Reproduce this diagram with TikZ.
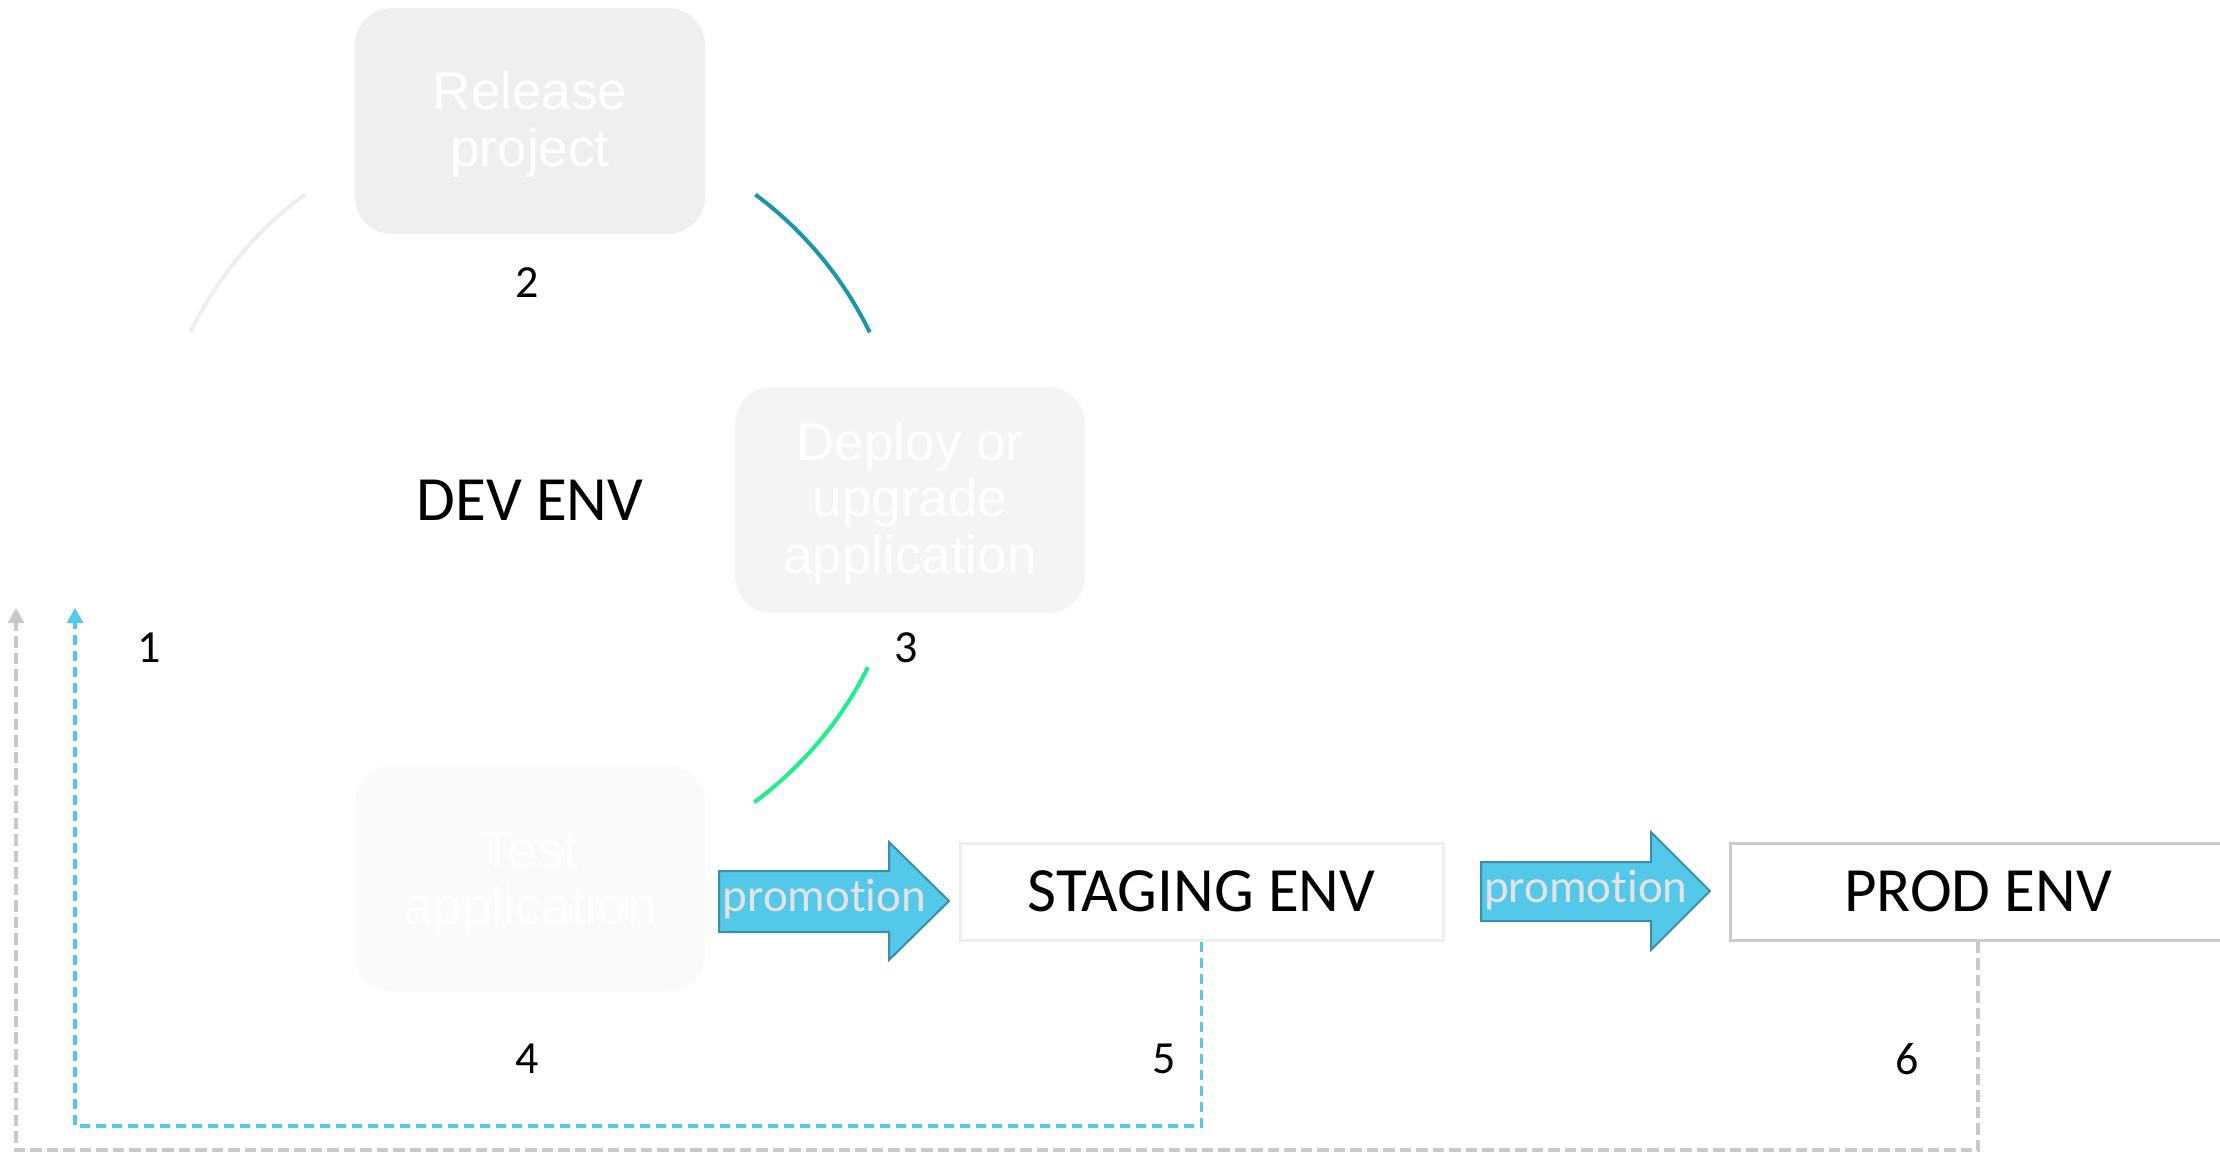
\documentclass[tikz,border=0pt]{standalone}
\usepackage{fontspec}
\setmainfont{Carlito}[Ligatures=NoCommon]
\newfontfamily\arialfont{Liberation Sans}
\usetikzlibrary{arrows.meta}
\definecolor{relfill}{HTML}{EFEFEF}
\definecolor{depfill}{HTML}{F3F4F4}
\definecolor{testfill}{HTML}{FAFAFA}
\definecolor{promo}{HTML}{54C8E8}
\definecolor{promoedge}{HTML}{3A8FA8}
\definecolor{promotext}{HTML}{E3E3E3}
\definecolor{stageedge}{HTML}{EEEEEE}
\definecolor{prodedge}{HTML}{CCCCCC}
\definecolor{arcA}{HTML}{EEEEEE}
\definecolor{arcB}{HTML}{1A96AA}
\definecolor{arcC}{HTML}{1DF08A}
\definecolor{loopblue}{HTML}{54C8E8}
\definecolor{loopgray}{HTML}{C8C8C8}
\begin{document}
\begin{tikzpicture}[x=1pt,y=-1pt,
  stepbox/.style={rounded corners=37pt, draw=none, minimum width=350pt, minimum height=226pt,
    inner sep=0pt},
  steptext/.style={inner sep=0pt, align=center, text=white,
    font=\arialfont\fontsize{53}{56.5}\selectfont},
  envbox/.style={minimum height=97pt, inner sep=0pt, line width=3pt, fill=white,
    font=\fontsize{63}{70}\selectfont},
  envlabel/.style={inner sep=0pt, font=\fontsize{63}{70}\selectfont},
  numlabel/.style={inner sep=0pt, font=\fontsize{46}{50}\selectfont},
  promoshape/.style={fill=promo, draw=promoedge, line width=2pt, line join=miter},
  promolabel/.style={inner sep=0pt, anchor=base, text=promotext, font=\fontsize{47}{50}\selectfont},
  arcline/.style={line width=4pt},
  loopline/.style={line width=3.2pt, dash pattern=on 10.5pt off 5.5pt, -{Triangle[width=16pt,length=15pt]}}
]
\useasboundingbox (0,0) rectangle (2220,1152);
\clip (0,0) rectangle (2220,1152);

% cycle boxes
\node[stepbox, fill=relfill] (rel) at (530,121) {};
\node[steptext] (reltext) at (530,124.5) {Release\\project};
\node[stepbox, fill=depfill] (dep) at (910,500) {};
\node[steptext] (deptext) at (910,503) {Deploy or\\upgrade\\application};
\node[stepbox, fill=testfill] (test) at (530,878.5) {};
\node[steptext] (testtext) at (530,884) {Test\\application};
\node[envlabel] (dev) at (530,500) {DEV ENV};

% arcs of the cycle
\coordinate (c) at (530,498);
\draw[arcline, arcA] ([shift={(-126.5:378)}]c) arc[start angle=-126.5, end angle=-154, radius=378];
\draw[arcline, arcB] ([shift={(-53.4:378)}]c) arc[start angle=-53.4, end angle=-26, radius=378];
\draw[arcline, arcC] ([shift={(26.6:378)}]c) arc[start angle=26.6, end angle=53.6, radius=378];

% numbers
\node[numlabel] (n1) at (149,648) {1};
\node[numlabel] (n2) at (527,283) {2};
\node[numlabel] (n3) at (906,648) {3};
\node[numlabel] (n4) at (527,1059) {4};
\node[numlabel] (n5) at (1164,1059) {5};
\node[numlabel] (n6) at (1907,1059) {6};

% environments
\node[envbox, draw=stageedge, minimum width=483pt] (staging) at (1201.5,891.5) {STAGING ENV};
\node[envbox, draw=prodedge, minimum width=496pt] (prod) at (1978,891.5) {PROD ENV};

% promotion arrows
\draw[promoshape] (719,871) -- (889,871) -- (889,842) -- (949,901) -- (889,960) -- (889,932) -- (719,932) -- cycle;
\node[promolabel] (p1) at (824.5,911) {promotion};
\draw[promoshape] (1481,862) -- (1651,862) -- (1651,832) -- (1710,891) -- (1651,950) -- (1651,921) -- (1481,921) -- cycle;
\node[promolabel] (p2) at (1586,902) {promotion};

% feedback loops
\coordinate (bc) at (75,1126);
\coordinate (bend) at (75,608);
\coordinate (gc) at (16,1150);
\coordinate (gend) at (16,608);
\draw[loopline, loopblue] (staging.south) |- (bc) -- (bend);
\draw[loopline, loopgray, dash pattern=on 11.5pt off 5pt] (prod.south) |- (gc) -- (gend);
\end{tikzpicture}
\end{document}
